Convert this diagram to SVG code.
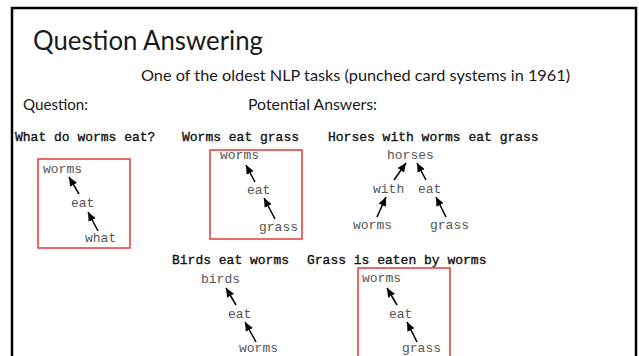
<svg xmlns="http://www.w3.org/2000/svg" width="639" height="356" viewBox="0 0 639 356">
<defs>
<marker id="ah" markerWidth="10" markerHeight="8" refX="9" refY="4" orient="auto" markerUnits="userSpaceOnUse">
<path d="M0,0 L9,4 L0,8 Z" fill="#000"/>
</marker>
<style>
.t{font-family:Lato,"Liberation Sans",sans-serif;fill:#1a1a1a}
.h{font-family:"Liberation Mono","DejaVu Sans Mono",monospace;font-size:13px;fill:#111;stroke:#111;stroke-width:0.35}
.n{font-family:"Liberation Mono","DejaVu Sans Mono",monospace;font-size:13px;fill:#555}
.box{fill:none;stroke:#e53a3a;stroke-width:1.5}
.c line{stroke:#000;stroke-width:1.5;marker-end:url(#ah)}
</style>
</defs>
<rect x="0" y="0" width="639" height="356" fill="#fff"/>
<path d="M12,370 L12,8 L636,8 L636,370" fill="none" stroke="#000" stroke-width="2.5"/>
<text class="t" x="33" y="50" font-size="26" textLength="230" lengthAdjust="spacingAndGlyphs">Question Answering</text>
<text class="t" x="141" y="81" font-size="16" textLength="429" lengthAdjust="spacingAndGlyphs">One of the oldest NLP tasks (punched card systems in 1961)</text>
<text class="t" x="23" y="110" font-size="15" textLength="65" lengthAdjust="spacingAndGlyphs">Question:</text>
<text class="t" x="248" y="110" font-size="15" textLength="129" lengthAdjust="spacingAndGlyphs">Potential Answers:</text>

<text class="h" x="15" y="141">What do worms eat?</text>
<text class="h" x="182" y="141">Worms eat grass</text>
<text class="h" x="328" y="141">Horses with worms eat grass</text>
<text class="h" x="172" y="264">Birds eat worms</text>
<text class="h" x="307" y="264">Grass is eaten by worms</text>

<g id="q1">
<rect class="box" x="38" y="159" width="92" height="89"/>
<text class="n" x="43" y="173">worms</text>
<text class="n" x="71" y="207">eat</text>
<text class="n" x="85" y="242">what</text>
</g>
<g id="a1">
<rect class="box" x="210" y="150" width="92" height="89"/>
<text class="n" x="220" y="159">worms</text>
<text class="n" x="247" y="194">eat</text>
<text class="n" x="259" y="231">grass</text>
</g>
<g id="a2">
<text class="n" x="387" y="159">horses</text>
<text class="n" x="373" y="193">with</text>
<text class="n" x="418" y="193">eat</text>
<text class="n" x="353" y="229">worms</text>
<text class="n" x="430" y="229">grass</text>
</g>
<g id="a3">
<text class="n" x="201" y="283">birds</text>
<text class="n" x="228" y="318">eat</text>
<text class="n" x="239" y="352">worms</text>
</g>
<g id="a4">
<rect class="box" x="358" y="268" width="92" height="100"/>
<text class="n" x="362" y="282">worms</text>
<text class="n" x="389" y="318">eat</text>
<text class="n" x="402" y="352">grass</text>
</g>
<g id="connectors" class="c">
<line x1="79" y1="194" x2="69" y2="177"/>
<line x1="98" y1="231" x2="88" y2="212"/>
<line x1="255" y1="182" x2="246" y2="165"/>
<line x1="275" y1="219" x2="264" y2="198"/>
<line x1="394" y1="180" x2="406" y2="163"/>
<line x1="426" y1="180" x2="417" y2="163"/>
<line x1="377" y1="217" x2="386" y2="197"/>
<line x1="446" y1="217" x2="436" y2="197"/>
<line x1="236" y1="305" x2="226" y2="288"/>
<line x1="256" y1="342" x2="245" y2="322"/>
<line x1="397" y1="305" x2="387" y2="288"/>
<line x1="417" y1="342" x2="407" y2="322"/>
</g>
</svg>
